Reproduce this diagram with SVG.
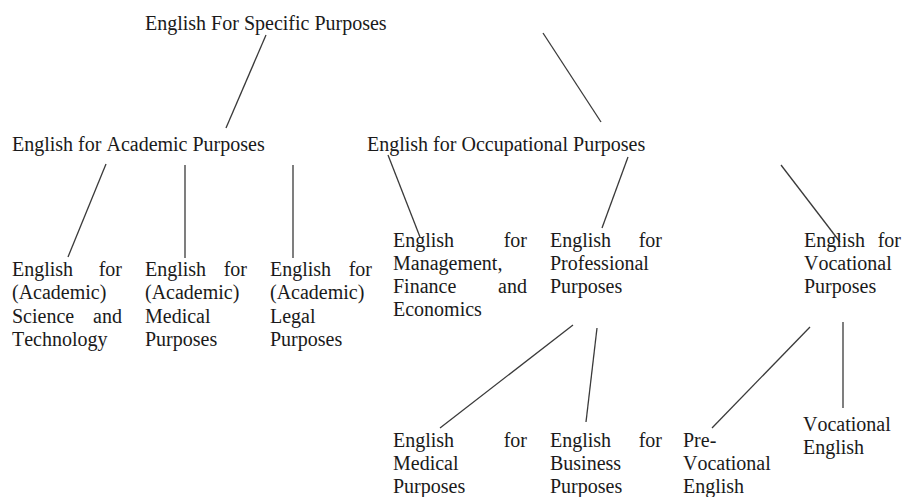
<svg xmlns="http://www.w3.org/2000/svg" width="902" height="497" viewBox="0 0 902 497">
<style>
text{font-family:"Liberation Serif","Times New Roman",serif;font-size:20px;fill:#1a1a1a;font-kerning:none}
.e{text-anchor:end}
#connectors line{stroke:#3a3a3a;stroke-width:1.3;fill:none}
</style>
<rect width="902" height="497" fill="#ffffff"/>
<g id="connectors">
<line x1="266" y1="35" x2="226" y2="128"/>
<line x1="543" y1="33" x2="601" y2="122"/>
<line x1="106" y1="164" x2="68" y2="257"/>
<line x1="185" y1="165" x2="185" y2="258"/>
<line x1="293" y1="165" x2="293" y2="258"/>
<line x1="388" y1="155" x2="420" y2="237"/>
<line x1="628" y1="157" x2="602" y2="228"/>
<line x1="781" y1="165" x2="840" y2="242"/>
<line x1="573" y1="325" x2="440" y2="428"/>
<line x1="597" y1="328" x2="586" y2="422"/>
<line x1="810" y1="327" x2="712" y2="428"/>
<line x1="843" y1="322" x2="843" y2="408"/>
</g>
<g id="esp"><text x="145" y="30">English For Specific Purposes</text></g>
<g id="eap"><text x="12" y="151">English for Academic Purposes</text></g>
<g id="eop"><text x="367" y="151">English for Occupational Purposes</text></g>
<g id="est">
<text x="12" y="276">English</text><text class="e" x="122" y="276">for</text>
<text x="12" y="299">(Academic)</text>
<text x="12" y="323">Science</text><text class="e" x="122" y="323">and</text>
<text x="12" y="346">Technology</text>
</g>
<g id="emp-academic">
<text x="145" y="276">English</text><text class="e" x="247" y="276">for</text>
<text x="145" y="299">(Academic)</text>
<text x="145" y="323">Medical</text>
<text x="145" y="346">Purposes</text>
</g>
<g id="elp">
<text x="270" y="276">English</text><text class="e" x="372" y="276">for</text>
<text x="270" y="299">(Academic)</text>
<text x="270" y="323">Legal</text>
<text x="270" y="346">Purposes</text>
</g>
<g id="emfe">
<text x="393" y="247">English</text><text class="e" x="527" y="247">for</text>
<text x="393" y="270">Management,</text>
<text x="393" y="293">Finance</text><text class="e" x="527" y="293">and</text>
<text x="393" y="316">Economics</text>
</g>
<g id="epp">
<text x="550" y="247">English</text><text class="e" x="662" y="247">for</text>
<text x="550" y="270">Professional</text>
<text x="550" y="293">Purposes</text>
</g>
<g id="evp">
<text x="804" y="247">English</text><text class="e" x="901" y="247">for</text>
<text x="804" y="270">Vocational</text>
<text x="804" y="293">Purposes</text>
</g>
<g id="emp">
<text x="393" y="447">English</text><text class="e" x="527" y="447">for</text>
<text x="393" y="470">Medical</text>
<text x="393" y="493">Purposes</text>
</g>
<g id="ebp">
<text x="550" y="447">English</text><text class="e" x="662" y="447">for</text>
<text x="550" y="470">Business</text>
<text x="550" y="493">Purposes</text>
</g>
<g id="pve">
<text x="683" y="447">Pre-</text>
<text x="683" y="470">Vocational</text>
<text x="683" y="493">English</text>
</g>
<g id="ve">
<text x="803" y="431">Vocational</text>
<text x="803" y="454">English</text>
</g>
</svg>
